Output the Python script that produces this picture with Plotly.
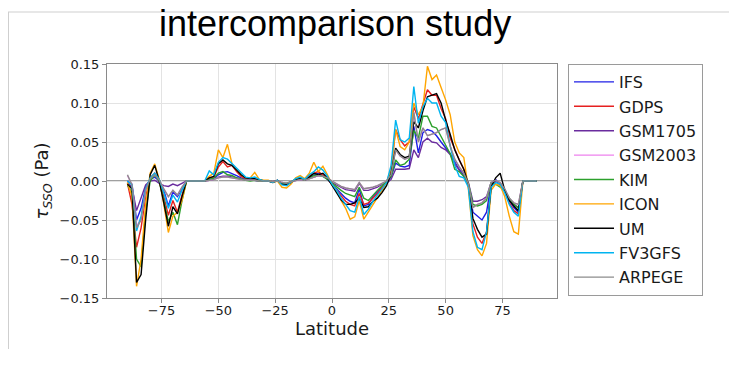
import plotly.graph_objects as go

lat = list(range(-90, 92, 2))

names = ["IFS", "GDPS", "GSM1705", "GSM2003", "KIM", "ICON", "UM", "FV3GFS", "ARPEGE"]
colors = ["#1f1fe6", "#e62020", "#6a2c9e", "#ee82ee", "#2ca02c", "#ffa500", "#000000", "#00b4f0", "#8c8c8c"]

ifs = [0.000,-0.004,-0.050,-0.035,-0.008, 0.002, 0.005, 0.000,-0.012,-0.032,-0.014,-0.020,-0.010, 0.000,
       0.000, 0.000, 0.000, 0.000,
       0.002, 0.003, 0.008, 0.011, 0.012, 0.010, 0.007, 0.004, 0.002, 0.001, 0.001, 0.000, 0.000,
       0.000,-0.001, 0.000,-0.003,-0.004,-0.002, 0.002, 0.003, 0.001, 0.004, 0.008, 0.010, 0.007, 0.002,-0.004,
       -0.010,-0.016,-0.022,-0.026,-0.028,-0.010,-0.032,-0.030,-0.020,-0.014,-0.008,-0.002,
       0.005, 0.023, 0.019, 0.018, 0.020, 0.070, 0.036, 0.062, 0.066, 0.064, 0.058, 0.050, 0.042, 0.035, 0.025, 0.015, 0.008,
       -0.004,-0.040,-0.045,-0.050,-0.040,-0.004, 0.002,-0.006,-0.012,-0.025,-0.034,-0.040, 0.000, 0.000, 0.000, 0.000]

gdps = [-0.003,-0.030,-0.085,-0.060,-0.020, 0.004, 0.010, 0.000,-0.020,-0.044,-0.025,-0.040,-0.018, 0.000,
        0.000, 0.000, 0.000, 0.000,
        0.004, 0.005, 0.018, 0.025, 0.018, 0.020, 0.012, 0.006, 0.003, 0.002, 0.003, 0.001, 0.000,
        0.000,-0.001, 0.001,-0.004,-0.004,-0.002, 0.002, 0.004, 0.002, 0.006, 0.010, 0.012, 0.008, 0.003,-0.005,
        -0.012,-0.020,-0.026,-0.030,-0.032,-0.016,-0.030,-0.028,-0.022,-0.016,-0.008,-0.002,
        0.015, 0.066, 0.053, 0.045, 0.050, 0.095, 0.080, 0.100, 0.117, 0.110, 0.110, 0.093, 0.080, 0.055, 0.040, 0.027, 0.015,
        -0.006,-0.055,-0.072,-0.080,-0.065,-0.006, 0.000,-0.003,-0.012,-0.028,-0.038,-0.042, 0.000, 0.000, 0.000, 0.000]

gsm1705 = [-0.002,-0.008,-0.038,-0.020,-0.005, 0.000, 0.001,-0.003,-0.006,-0.007,-0.004,-0.006,-0.003, 0.000,
           0.000, 0.000, 0.000, 0.000,
           0.001, 0.002, 0.005, 0.006, 0.006, 0.005, 0.004, 0.003, 0.002, 0.001, 0.001, 0.000, 0.000,
           0.000,-0.001, 0.000,-0.002,-0.003,-0.001, 0.001, 0.002, 0.001, 0.003, 0.006, 0.007, 0.006, 0.003,-0.002,
           -0.005,-0.009,-0.011,-0.012,-0.013,-0.003,-0.012,-0.012,-0.010,-0.008,-0.004,-0.003,
           0.002, 0.015, 0.015, 0.015, 0.016, 0.040, 0.030, 0.050, 0.055, 0.050, 0.049, 0.043, 0.040, 0.034, 0.022, 0.014, 0.006,
           -0.002,-0.026,-0.026,-0.024,-0.020,-0.002, 0.000,-0.004,-0.012,-0.025,-0.030,-0.034, 0.000, 0.000, 0.000, 0.000]

gsm2003 = [0.007,-0.005,-0.058,-0.049,-0.012, 0.003, 0.008, 0.001,-0.010,-0.020,-0.012,-0.018,-0.008, 0.000,
           0.000, 0.000, 0.000, 0.000,
           0.001, 0.002, 0.004, 0.005, 0.005, 0.004, 0.003, 0.002, 0.001, 0.001, 0.001, 0.000, 0.000,
           0.000,-0.001, 0.000,-0.002,-0.003,-0.001, 0.001, 0.002, 0.001, 0.003, 0.005, 0.007, 0.006, 0.004, 0.000,
           -0.004,-0.007,-0.009,-0.010,-0.011,-0.002,-0.010,-0.009,-0.008,-0.006,-0.003, 0.000,
           0.008, 0.040, 0.032, 0.028, 0.030, 0.088, 0.050, 0.068, 0.058, 0.060, 0.062, 0.066, 0.068, 0.045, 0.028, 0.018, 0.010,
           -0.003,-0.034,-0.030,-0.028,-0.022,-0.002, 0.001,-0.002,-0.010,-0.022,-0.028,-0.030, 0.000, 0.000, 0.000, 0.000]

kim = [-0.005,-0.015,-0.100,-0.110,-0.040, 0.000, 0.008, 0.000,-0.025,-0.052,-0.040,-0.056,-0.025, 0.000,
       0.000, 0.000, 0.000, 0.000,
       0.002, 0.004, 0.010, 0.012, 0.008, 0.007, 0.004, 0.002, 0.001, 0.000, 0.001, 0.000, 0.000,
       0.000,-0.001, 0.000,-0.003,-0.003,-0.001, 0.002, 0.003, 0.001, 0.004, 0.007, 0.008, 0.006, 0.002,-0.003,
       -0.008,-0.012,-0.016,-0.018,-0.020,-0.008,-0.022,-0.025,-0.018,-0.012,-0.006,-0.001,
       0.006, 0.027, 0.020, 0.022, 0.028, 0.065, 0.055, 0.083, 0.083, 0.070, 0.068, 0.057, 0.045, 0.035, 0.015, 0.012, 0.006,
       -0.003,-0.030,-0.032,-0.030,-0.025,-0.002,-0.004,-0.008,-0.012,-0.022,-0.030,-0.035, 0.000, 0.000, 0.000, 0.000]

icon = [-0.002,-0.020,-0.135,-0.100,-0.030, 0.010, 0.022, 0.002,-0.030,-0.066,-0.045,-0.040,-0.025, 0.000,
        0.000, 0.000, 0.000, 0.000,
        0.006, 0.010, 0.040, 0.030, 0.047, 0.022, 0.015, 0.008, 0.004, 0.004, 0.011, 0.002, 0.001,
        0.001,-0.002, 0.000,-0.008,-0.009,-0.004, 0.004, 0.007, 0.003, 0.010, 0.024, 0.012, 0.019, 0.008,-0.004,
        -0.012,-0.025,-0.035,-0.049,-0.046,-0.025,-0.049,-0.040,-0.030,-0.022,-0.012,-0.002,
        0.015, 0.066, 0.044, 0.040, 0.050, 0.100, 0.085, 0.095, 0.147, 0.130, 0.136, 0.120, 0.104, 0.085, 0.050, 0.036, 0.030,
        -0.010,-0.070,-0.088,-0.096,-0.080,-0.012,-0.004,-0.006,-0.020,-0.045,-0.065,-0.068, 0.000, 0.000, 0.000, 0.000]

um = [-0.004,-0.010,-0.130,-0.120,-0.050, 0.008, 0.020, 0.000,-0.028,-0.058,-0.033,-0.042,-0.020, 0.000,
      0.000, 0.000, 0.000, 0.000,
      0.004, 0.006, 0.022, 0.027, 0.022, 0.020, 0.014, 0.008, 0.004, 0.003, 0.003, 0.001, 0.000,
      0.000,-0.002, 0.001,-0.004,-0.005,-0.002, 0.002, 0.003, 0.001, 0.005, 0.010, 0.008, 0.010, 0.004,-0.006,
      -0.015,-0.024,-0.030,-0.030,-0.028,-0.022,-0.034,-0.033,-0.026,-0.022,-0.015,-0.006,
      0.010, 0.042, 0.034, 0.030, 0.032, 0.076, 0.068, 0.090, 0.108, 0.110, 0.112, 0.100, 0.078, 0.060, 0.040, 0.027, 0.015,
      -0.004,-0.048,-0.062,-0.072,-0.068,-0.008, 0.004, 0.010,-0.012,-0.025,-0.032,-0.038, 0.000, 0.000, 0.000, 0.000]

fv3gfs = [0.000,-0.005,-0.064,-0.045,-0.010, 0.004, 0.010, 0.002,-0.015,-0.035,-0.018,-0.027,-0.012, 0.000,
          0.000, 0.000, 0.000, 0.000,
          0.013, 0.008, 0.024, 0.030, 0.028, 0.022, 0.016, 0.010, 0.005, 0.004, 0.005, 0.002, 0.000,
          0.000,-0.002, 0.001,-0.005,-0.006,-0.002, 0.003, 0.005, 0.002, 0.008, 0.012, 0.018, 0.014, 0.006,-0.004,
          -0.012,-0.022,-0.030,-0.038,-0.040,-0.020,-0.043,-0.036,-0.026,-0.018,-0.010,-0.002,
          0.020, 0.078, 0.053, 0.050, 0.055, 0.121, 0.074, 0.095, 0.106, 0.100, 0.100, 0.083, 0.075, 0.045, 0.020, 0.006, 0.004,
          -0.008,-0.065,-0.085,-0.088,-0.065,-0.008,-0.002,-0.004,-0.015,-0.030,-0.040,-0.045, 0.000, 0.000, 0.000, 0.000]

arpege = [0.008,-0.005,-0.060,-0.050,-0.012, 0.003, 0.008, 0.001,-0.010,-0.020,-0.012,-0.018,-0.008, 0.000,
          0.000, 0.000, 0.000, 0.000,
          0.001, 0.002, 0.004, 0.005, 0.005, 0.004, 0.003, 0.002, 0.001, 0.001, 0.001, 0.000, 0.000,
          0.000,-0.001, 0.000,-0.002,-0.003,-0.001, 0.001, 0.002, 0.001, 0.003, 0.005, 0.007, 0.006, 0.004, 0.000,
          -0.004,-0.007,-0.009,-0.010,-0.011,-0.002,-0.010,-0.009,-0.008,-0.006,-0.003, 0.000,
          0.008, 0.040, 0.032, 0.028, 0.030, 0.088, 0.050, 0.068, 0.058, 0.060, 0.062, 0.066, 0.068, 0.045, 0.028, 0.018, 0.010,
          -0.003,-0.034,-0.030,-0.028,-0.022,-0.002, 0.001,-0.002,-0.010,-0.022,-0.028,-0.030, 0.000, 0.000, 0.000, 0.000]

series = [ifs, gdps, gsm1705, gsm2003, kim, icon, um, fv3gfs, arpege]

xtick_vals = [-75, -50, -25, 0, 25, 50, 75]
xtick_text = ["\u221275", "\u221250", "\u221225", "0", "25", "50", "75"]
ytick_vals = [-0.15, -0.10, -0.05, 0.00, 0.05, 0.10, 0.15]
ytick_text = ["\u22120.15", "\u22120.10", "\u22120.05", "0.00", "0.05", "0.10", "0.15"]

fig = go.Figure()
for name, col, vals in zip(names, colors, series):
    fig.add_trace(go.Scatter(x=lat, y=vals, mode="lines", name=name, legendgroup=name,
                             line=dict(color=col, width=1.4)))

# the page body has an 8px margin; work in screen pixels and shift
OFF = 8
W, H = 737 - OFF, 380 - OFF
ML, MR, MT, MB = 99, 180, 56, 82
PW, PH = W - ML - MR, H - MT - MB

def px(x):
    return (x - OFF - ML) / PW

def py(y):
    return (H - MB - (y - OFF)) / PH

font = "DejaVu Sans"
axis_common = dict(showgrid=True, gridcolor="#e3e3e3", gridwidth=1, zeroline=False,
                   showline=True, linecolor="#8a8a8a", linewidth=1, mirror=True,
                   ticks="outside", ticklen=4, tickcolor="#8a8a8a",
                   tickfont=dict(family=font, size=13, color="#1a1a1a"))

fig.update_layout(
    width=W, height=H, margin=dict(l=ML, r=MR, t=MT, b=MB),
    paper_bgcolor="white", plot_bgcolor="white",
    xaxis=dict(range=[-99, 99], tickvals=xtick_vals, ticktext=xtick_text, ticklabelstandoff=-4,
               title=dict(text="Latitude", font=dict(family=font, size=18, color="#1a1a1a"), standoff=0),
               **axis_common),
    yaxis=dict(range=[-0.15, 0.15], tickvals=ytick_vals, ticktext=ytick_text,
               title=dict(text="<i>τ</i><sub><i>SSO</i></sub> (Pa)", font=dict(family=font, size=18, color="#1a1a1a"), standoff=6),
               **axis_common),
    legend=dict(x=px(568), y=1.0, xanchor="left", yanchor="top",
                bordercolor="#9a9a9a", borderwidth=1, bgcolor="white",
                itemwidth=40, tracegroupgap=0.6, maxheight=320,
                font=dict(family=font, size=16, color="#1a1a1a")),
    showlegend=True,
)

# zero reference line in data coords
fig.add_shape(type="line", xref="paper", yref="y", x0=0, x1=1, y0=0, y1=0,
              line=dict(color="#808080", width=1.3), layer="between")

# slide frame
fig.add_shape(type="line", xref="paper", yref="paper", x0=px(8), x1=px(737), y0=py(12), y1=py(12),
              line=dict(color="#cfcfcf", width=1))
fig.add_shape(type="line", xref="paper", yref="paper", x0=px(8.5), x1=px(8.5), y0=py(12), y1=py(349),
              line=dict(color="#cfcfcf", width=1))

fig.add_annotation(text="intercomparison study", xref="paper", yref="paper",
                   x=px(335), y=py(24), xanchor="center", yanchor="middle", showarrow=False,
                   font=dict(family="Liberation Sans, Arial", size=36, color="#000000"))

fig.write_html("out.html")
